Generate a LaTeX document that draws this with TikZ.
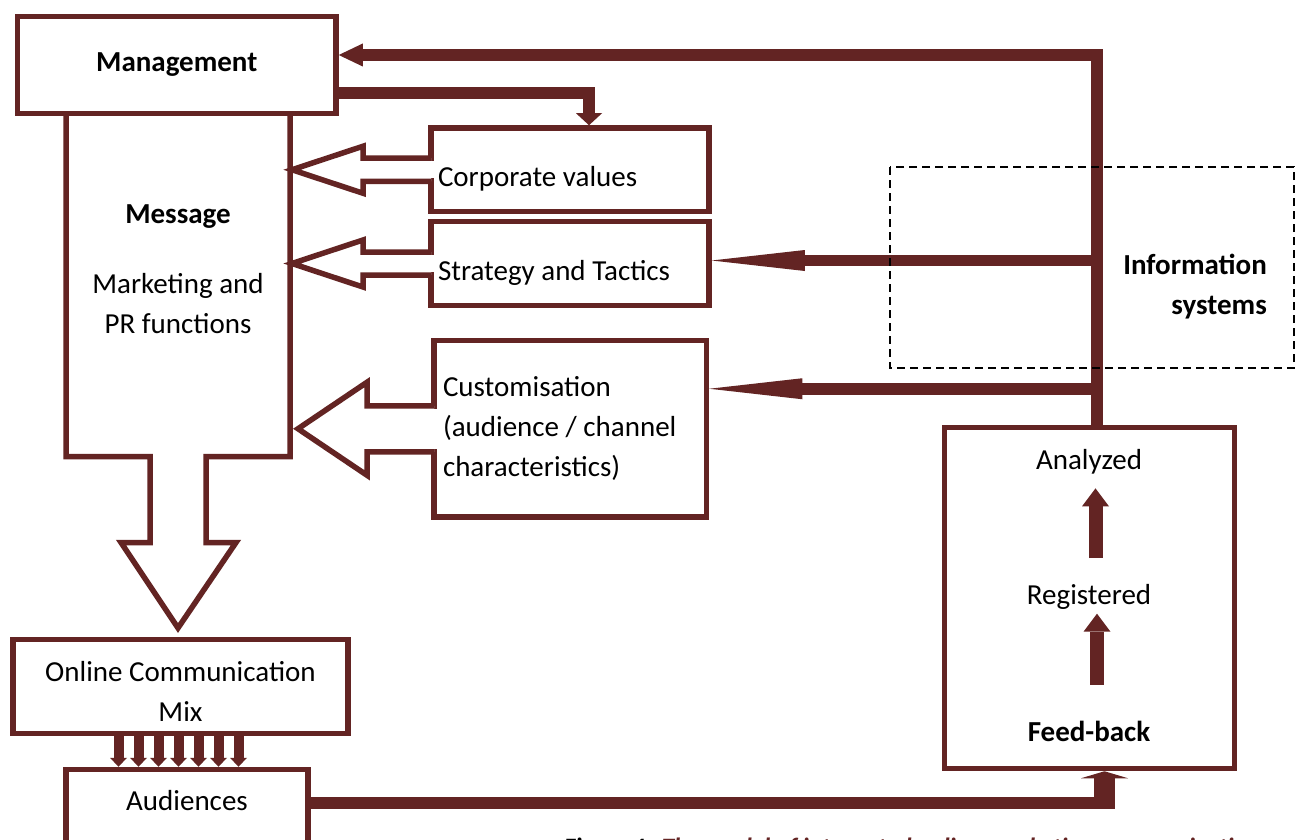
\documentclass[tikz,border=0pt]{standalone}
\usepackage{fontspec}
\setmainfont{Carlito}
\usepackage{xcolor}
\usetikzlibrary{arrows.meta, calc, positioning}
\definecolor{mkmaroon}{RGB}{99, 36, 35}
\newcommand{\mixfont}{\fontsize{29}{40}\selectfont}
\tikzset{
    boxline/.style={draw=mkmaroon, line width=5.5pt, line join=miter},
    mixbox/.style={boxline, rectangle, fill=white, inner sep=0pt, align=center, font=\mixfont},
    leftbox/.style={mixbox, align=flush left, inner xsep=7pt},
    txtnode/.style={inner sep=0pt, align=center, font=\mixfont},
    hollowarr/.style={boxline, fill=white},
    flowline/.style={draw=mkmaroon, line width=11.5pt, line join=miter},
    stepup/.style={draw=mkmaroon, line width=14pt, -{Triangle[length=18pt, width=27pt, line width=0pt]}},
    mixarrow/.style={draw=mkmaroon, line width=10pt, -{Triangle[length=9pt, width=17pt, line width=0pt]}},
    infoframe/.style={draw=black, line width=1.6pt, dash pattern=on 8pt off 5pt}
}
% open block arrow leaving the west side of a box:
% #1 box, #2 shaft length, #3 head length, #4 shaft half width, #5 head half width
\newcommand{\openarrow}[5]{%
    \draw[hollowarr] ($(#1.west)+(2.75,-#4)$) -- ++(-#2,0) -- ++(0,#4-#5)
        -- ++(-#3,#5) -- ++(#3,#5) -- ++(0,#4-#5) -- ++(#2,0);
    \fill[white] ($(#1.west)+(-1,-#4+2.8)$) rectangle ($(#1.west)+(6.6,#4-2.8)$);
}

\begin{document}
\begin{tikzpicture}[x=1pt, y=-1pt]
    \useasboundingbox[fill=white] (0,0) rectangle (1296,840);

    % message column, ending in a big down arrow
    \draw[boxline] (66,112) -- (66,456.5) -- (150,456.5) -- (150,542.5) -- (121,542.5)
        -- (178,628) -- (236,542.5) -- (206,542.5) -- (206,456.5) -- (290,456.5) -- (290,112);

    \node[mixbox, font=\mixfont\bfseries, minimum width=318.5pt, minimum height=97pt] (mgmt) at (176.75,65) {Management};
    \node[txtnode, font=\mixfont\bfseries] (msgtitle) at (178,217) {Message};
    \node[txtnode] (msgbody) at (178,304) {Marketing and\\PR functions};

    % inputs to the message
    \node[leftbox, text width=264pt, text height=36pt, text depth=3pt, minimum height=83.5pt] (cv) at (570,169.75) {Corporate values};
    \node[leftbox, text width=264pt, text height=36pt, text depth=3pt, minimum height=84pt] (st) at (570,263.5) {Strategy and Tactics};
    \node[leftbox, inner xsep=9pt, text width=254.5pt, minimum height=176.5pt] (cu) at (570.25,428.75)
        {Customisation\\(audience / channel\\characteristics)};

    \openarrow{cv}{68}{71}{11.5}{23.5}
    \openarrow{st}{68}{71}{11.5}{23.5}
    \openarrow{cu}{67}{69}{23}{46.5}

    % channels and audiences
    \node[mixbox, minimum width=335pt, minimum height=94pt, text height=70pt] (ocm) at (180.5,686.5) {Online Communication\\Mix};
    \node[mixbox, minimum width=242pt, text height=22pt, text depth=120pt, inner ysep=18.5pt, anchor=north] (aud) at (187,766.75) {Audiences};
    \foreach \dx in {-62,-42,...,58}
        \draw[mixarrow] (ocm.south) ++(\dx,0) coordinate (mixtop) -- (mixtop |- aud.north);

    % feed-back loop
    \node[mixbox, minimum width=290pt, minimum height=341pt] (fb) at (1089.5,598) {};
    \node[txtnode, anchor=base] (ana) at (1089,469.5) {Analyzed};
    \node[txtnode, anchor=base] (reg) at (1089,604.5) {Registered};
    \node[txtnode, anchor=base, font=\mixfont\bfseries] (feed) at (1089,741.5) {Feed-back};
    \draw[stepup, shorten <=26pt, shorten >=14pt] ([xshift=6.5pt]reg.north) -- ([xshift=6.5pt]ana.south);
    \draw[stepup, shorten <=36pt, shorten >=4pt] ([xshift=8pt]feed.north) -- ([xshift=8pt]reg.south);

    \coordinate (audout) at ($(aud.north east)+(0,36)$);
    \coordinate (fbin) at ($(fb.south)+(15,0)$);
    \draw[flowline] (audout) -- (audout -| fbin);
    \draw[draw=mkmaroon, line width=21pt, -{Triangle[length=7pt, width=47pt, line width=0pt]}] ($(audout -| fbin)+(0,6)$) -- (fbin);

    % information back to management and planning
    \coordinate (trunk) at (1097,55);
    \coordinate (stin) at ($(st.east)+(0,-3)$);
    \coordinate (cuin) at ($(cu.east)+(0,-40)$);
    \coordinate (mgout) at ($(mgmt.east)+(0,28)$);
    \coordinate (cvin) at ($(cv.north)+(19,0)$);
    \draw[flowline, -{Triangle[length=24pt, width=23pt, line width=0pt]}] (fb.north -| trunk) |- (mgmt.east |- trunk);
    \draw[flowline, -{Triangle[length=93pt, width=21pt, line width=0pt]}] (trunk |- stin) -- (stin);
    \draw[flowline, -{Triangle[length=93pt, width=21pt, line width=0pt]}] (trunk |- cuin) -- (cuin);
    \draw[flowline, -{Triangle[length=12pt, width=26pt, line width=0pt]}] (mgout) -| (cvin);

    \draw[infoframe] (890,167) rectangle (1294,368);
    \node[txtnode, font=\mixfont\bfseries, align=right, anchor=east] (info) at (1267,287) {Information\\systems};

    \node[anchor=base west, inner sep=0pt, font=\fontsize{25}{30}\selectfont\bfseries] (caption) at (565,855)
        {Figure 1. \textcolor{mkmaroon}{\itshape The model of integrated online marketing communication}};
\end{tikzpicture}
\end{document}
